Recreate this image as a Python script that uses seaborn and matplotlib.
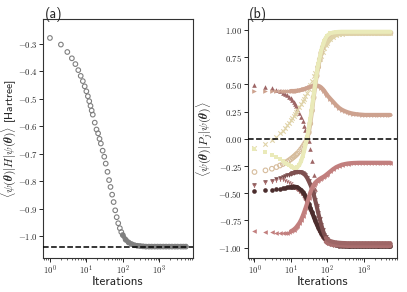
import matplotlib
matplotlib.use("Agg")
import matplotlib.pyplot as plt
import seaborn as sns

# sampled iteration numbers (shared by every series)
iters = [1, 2, 3, 4, 5, 6, 7, 8, 9, 10,
         11, 12, 13, 14, 15, 17, 19, 21, 23, 25,
         28, 31, 34, 38, 42, 46, 51, 56, 62, 68,
         75, 83, 91, 100, 120, 145, 175, 210, 250, 300,
         360, 430, 520, 620, 750, 900, 1080, 1300, 1550, 1870,
         2240, 2700, 3200, 3900, 4600, 5400]

# (a) energy
energy = [-0.278, -0.302, -0.329, -0.352, -0.373, -0.395, -0.416, -0.435, -0.454, -0.472,
          -0.490, -0.508, -0.525, -0.542, -0.557, -0.586, -0.611, -0.625, -0.645, -0.662,
          -0.688, -0.710, -0.735, -0.765, -0.795, -0.820, -0.848, -0.875, -0.905, -0.930,
          -0.952, -0.970, -0.984, -0.995, -1.012, -1.022, -1.028, -1.032, -1.034, -1.035,
          -1.036, -1.037, -1.037, -1.037, -1.037, -1.037, -1.037, -1.037, -1.037, -1.037,
          -1.037, -1.037, -1.037, -1.037, -1.037, -1.037]
exact_energy = -1.037

# (b) Pauli expectation values
p_circle_dark = [-0.480, -0.475, -0.470, -0.465, -0.460, -0.455, -0.450, -0.447, -0.444, -0.442,
                 -0.440, -0.440, -0.441, -0.443, -0.447, -0.458, -0.472, -0.490, -0.510, -0.530,
                 -0.560, -0.600, -0.635, -0.675, -0.715, -0.750, -0.785, -0.815, -0.845, -0.870,
                 -0.893, -0.912, -0.928, -0.940, -0.958, -0.970, -0.978, -0.983, -0.986, -0.988,
                 -0.990, -0.990, -0.990, -0.990, -0.990, -0.990, -0.990, -0.990, -0.990, -0.990,
                 -0.990, -0.990, -0.990, -0.990, -0.990, -0.990]
p_tri_down = [-0.424, -0.400, -0.385, -0.372, -0.360, -0.350, -0.342, -0.335, -0.328, -0.322,
              -0.317, -0.312, -0.309, -0.306, -0.305, -0.305, -0.308, -0.315, -0.325, -0.335,
              -0.360, -0.390, -0.420, -0.460, -0.510, -0.560, -0.620, -0.680, -0.740, -0.790,
              -0.840, -0.880, -0.905, -0.925, -0.948, -0.960, -0.967, -0.970, -0.972, -0.974,
              -0.975, -0.975, -0.975, -0.975, -0.975, -0.975, -0.975, -0.975, -0.975, -0.975,
              -0.975, -0.975, -0.975, -0.975, -0.975, -0.975]
p_thin = [-0.424, -0.400, -0.385, -0.375, -0.370, -0.372, -0.380, -0.390, -0.400, -0.410,
          -0.420, -0.430, -0.440, -0.450, -0.460, -0.480, -0.500, -0.520, -0.540, -0.560,
          -0.590, -0.625, -0.660, -0.700, -0.740, -0.775, -0.810, -0.840, -0.870, -0.895,
          -0.915, -0.935, -0.948, -0.958, -0.970, -0.977, -0.980, -0.982, -0.983, -0.984,
          -0.985, -0.985, -0.985, -0.985, -0.985, -0.985, -0.985, -0.985, -0.985, -0.985,
          -0.985, -0.985, -0.985, -0.985, -0.985, -0.985]
p_tri_up = [0.497, 0.480, 0.468, 0.452, 0.437, 0.425, 0.413, 0.400, 0.387, 0.372,
            0.355, 0.337, 0.318, 0.298, 0.278, 0.240, 0.200, 0.160, 0.120, 0.085,
            0.035, -0.020, -0.090, -0.200, -0.330, -0.460, -0.600, -0.700, -0.780, -0.830,
            -0.870, -0.895, -0.912, -0.925, -0.940, -0.948, -0.953, -0.956, -0.958, -0.959,
            -0.960, -0.960, -0.960, -0.960, -0.960, -0.960, -0.960, -0.960, -0.960, -0.960,
            -0.960, -0.960, -0.960, -0.960, -0.960, -0.960]
p_tri_left = [-0.851, -0.857, -0.860, -0.863, -0.865, -0.866, -0.865, -0.862, -0.857, -0.850,
              -0.843, -0.834, -0.824, -0.813, -0.800, -0.775, -0.745, -0.710, -0.675, -0.640,
              -0.590, -0.540, -0.495, -0.455, -0.425, -0.405, -0.390, -0.378, -0.368, -0.360,
              -0.352, -0.343, -0.333, -0.322, -0.300, -0.278, -0.260, -0.248, -0.238, -0.232,
              -0.227, -0.224, -0.222, -0.221, -0.220, -0.220, -0.220, -0.220, -0.220, -0.220,
              -0.220, -0.220, -0.220, -0.220, -0.220, -0.220]
p_tri_right = [0.440, 0.443, 0.444, 0.443, 0.442, 0.441, 0.440, 0.440, 0.440, 0.440,
               0.440, 0.440, 0.441, 0.442, 0.443, 0.446, 0.450, 0.454, 0.458, 0.462,
               0.468, 0.473, 0.478, 0.483, 0.487, 0.489, 0.490, 0.488, 0.482, 0.472,
               0.458, 0.440, 0.420, 0.400, 0.370, 0.340, 0.310, 0.285, 0.268, 0.255,
               0.245, 0.237, 0.231, 0.227, 0.224, 0.222, 0.220, 0.220, 0.220, 0.220,
               0.220, 0.220, 0.220, 0.220, 0.220, 0.220]
p_circle_open = [-0.305, -0.290, -0.275, -0.260, -0.245, -0.232, -0.220, -0.208, -0.197, -0.186,
                 -0.175, -0.165, -0.155, -0.145, -0.135, -0.115, -0.095, -0.075, -0.055, -0.035,
                 0.000, 0.060, 0.140, 0.260, 0.380, 0.480, 0.580, 0.660, 0.730, 0.790,
                 0.840, 0.880, 0.910, 0.930, 0.955, 0.967, 0.972, 0.975, 0.975, 0.975,
                 0.975, 0.975, 0.975, 0.975, 0.975, 0.975, 0.975, 0.975, 0.975, 0.975,
                 0.975, 0.975, 0.975, 0.975, 0.975, 0.975]
p_cross = [-0.085, -0.048, -0.010, 0.020, 0.050, 0.075, 0.100, 0.125, 0.148, 0.170,
           0.190, 0.210, 0.228, 0.245, 0.262, 0.290, 0.320, 0.345, 0.370, 0.390,
           0.425, 0.460, 0.495, 0.535, 0.575, 0.610, 0.650, 0.690, 0.730, 0.765,
           0.800, 0.835, 0.860, 0.880, 0.915, 0.940, 0.955, 0.963, 0.968, 0.970,
           0.972, 0.972, 0.972, 0.972, 0.972, 0.972, 0.972, 0.972, 0.972, 0.972,
           0.972, 0.972, 0.972, 0.972, 0.972, 0.972]
p_square = [-0.090, -0.120, -0.145, -0.170, -0.190, -0.207, -0.222, -0.235, -0.245, -0.254,
            -0.261, -0.266, -0.268, -0.266, -0.260, -0.240, -0.205, -0.160, -0.110, -0.060,
            0.020, 0.100, 0.180, 0.290, 0.400, 0.500, 0.600, 0.680, 0.750, 0.810,
            0.860, 0.900, 0.930, 0.950, 0.970, 0.978, 0.982, 0.984, 0.985, 0.985,
            0.985, 0.985, 0.985, 0.985, 0.985, 0.985, 0.985, 0.985, 0.985, 0.985,
            0.985, 0.985, 0.985, 0.985, 0.985, 0.985]

sns.set_style("ticks")
plt.rcParams["font.family"] = "serif"
plt.rcParams["font.serif"] = ["cmr10"]
plt.rcParams["mathtext.fontset"] = "cm"
plt.rcParams["axes.formatter.use_mathtext"] = True

cmap = plt.get_cmap("pink")
# values, marker, colour position, filled, index where the dense band starts
series = [
    (p_circle_dark, "o", 0.05, True, 9),
    (p_tri_down, "v", 0.15, True, 9),
    (p_thin, "1", 0.28, True, 32),
    (p_tri_up, "^", 0.24, True, 32),
    (p_tri_left, "<", 0.37, True, 9),
    (p_tri_right, ">", 0.47, True, 9),
    (p_circle_open, "o", 0.56, False, 20),
    (p_cross, "x", 0.65, True, 32),
    (p_square, "s", 0.76, True, 9),
]

fig, axes = plt.subplots(1, 2, figsize=(4.07, 2.92), dpi=100)
fig.subplots_adjust(left=0.106, right=0.976, bottom=0.115, top=0.934, wspace=0.368)

# (a)
ax = axes[0]
sns.lineplot(x=iters[33:], y=energy[33:], color="#7f7f7f", lw=3.2, ax=ax)
sns.scatterplot(x=iters, y=energy, marker="o", s=11, facecolor="none",
                edgecolor="#7f7f7f", linewidth=0.8, ax=ax)
ax.axhline(exact_energy, color="black", ls="--", lw=1.1, zorder=5)
ax.set_xscale("log")
ax.set_ylim(-1.08, -0.21)
ax.set_ylabel(r"$\langle\psi(\boldsymbol{\theta})|H|\psi(\boldsymbol{\theta})\rangle$ [Hartree]",
              fontfamily="cmss10", fontsize=8.3)
ax.yaxis.set_label_coords(-0.168, 0.5)
ax.text(0.01, 1.006, "(a)", transform=ax.transAxes, fontfamily="cmss10", fontsize=10)

# (b)
ax = axes[1]
for vals, mk, pos, filled, start in series:
    c = cmap(pos)
    sns.lineplot(x=iters[start:], y=vals[start:], color=c, lw=3.0, ax=ax)
    if mk in ("x", "1"):
        sns.scatterplot(x=iters, y=vals, marker=mk, s=10, color=c, linewidth=0.8, ax=ax)
    elif filled:
        sns.scatterplot(x=iters, y=vals, marker=mk, s=11, color=c, linewidth=0, ax=ax)
    else:
        sns.scatterplot(x=iters, y=vals, marker=mk, s=11, facecolor="none",
                        edgecolor=c, linewidth=0.8, ax=ax)
ax.axhline(0, color="black", ls="--", lw=1.1, zorder=5)
ax.set_xscale("log")
ax.set_ylim(-1.1, 1.1)
ax.set_yticks([-1.0, -0.75, -0.5, -0.25, 0.0, 0.25, 0.5, 0.75, 1.0])
ax.set_yticklabels(["$-1.00$", "$-0.75$", "$-0.50$", "$-0.25$", "$0.00$",
                    "$0.25$", "$0.50$", "$0.75$", "$1.00$"])
ax.set_ylabel(r"$\langle\psi(\boldsymbol{\theta})|P_j|\psi(\boldsymbol{\theta})\rangle$",
              fontsize=8.5)
ax.yaxis.set_label_coords(-0.222, 0.5)
ax.text(0.01, 1.006, "(b)", transform=ax.transAxes, fontfamily="cmss10", fontsize=10)

for ax in axes:
    ax.set_xlabel("Iterations", fontfamily="cmss10", fontsize=9.5)
    ax.xaxis.set_label_coords(0.5, -0.072)
    ax.tick_params(labelsize=6.3, length=2.6, width=0.7, pad=1.2)
    ax.tick_params(which="minor", length=1.6, width=0.5)
    for sp in ax.spines.values():
        sp.set_linewidth(0.8)
        sp.set_color("#333333")

fig.savefig("out.png", dpi=100)
